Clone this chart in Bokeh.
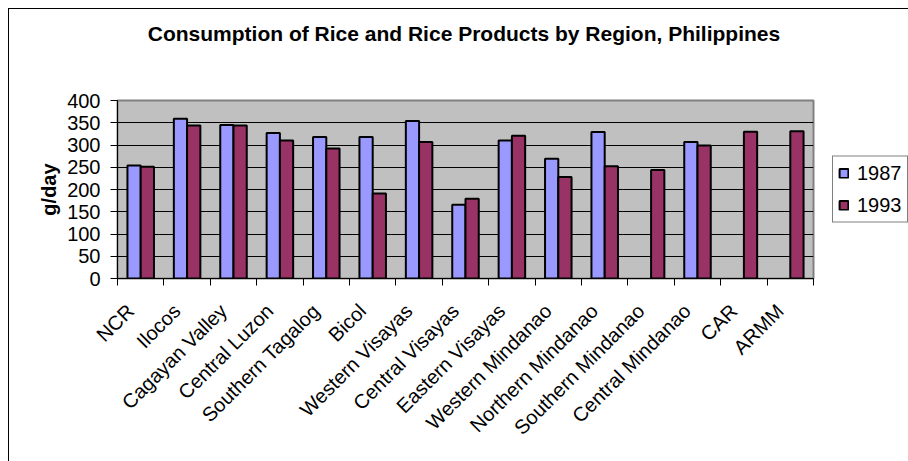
import numpy as np
from bokeh.plotting import figure
from bokeh.layouts import column
from bokeh.models import (FixedTicker, Legend, LegendItem, ColumnDataSource, Range1d, Div)
from bokeh.transform import dodge
from bokeh.embed import file_html
from bokeh.resources import INLINE

title_text = "Consumption of Rice and Rice Products by Region, Philippines"
regions = ["NCR", "Ilocos", "Cagayan Valley", "Central Luzon", "Southern Tagalog",
           "Bicol", "Western Visayas", "Central Visayas", "Eastern Visayas",
           "Western Mindanao", "Northern Mindanao", "Southern Mindanao",
           "Central Mindanao", "CAR", "ARMM"]
y1987 = [254, 359, 345, 327, 318, 318, 354, 166, 310, 269, 329, None, 307, None, None]
y1993 = [251, 344, 344, 310, 292, 191, 307, 179, 321, 228, 252, 244, 299, 330, 331]
y_ticks = [0, 50, 100, 150, 200, 250, 300, 350, 400]

FONT = "Liberation Sans"
FS = "20px"
n = len(regions)
centers = [i + 0.5 for i in range(n)]
bounds = list(range(n + 1))
LABEL_SHIFT = 0.22  # small leftward nudge of rotated category labels
label_pos = [c - LABEL_SHIFT for c in centers]

src = ColumnDataSource(dict(
    x=centers,
    a=[np.nan if v is None else v for v in y1987],
    b=[np.nan if v is None else v for v in y1993],
))

title = Div(text=title_text, width=888, height=50, margin=(0, 0, 0, 11),
            styles={"font-family": FONT, "font-size": "21px", "font-weight": "bold",
                    "text-align": "center", "line-height": "50px", "color": "black",
                    "white-space": "nowrap"})

p = figure(frame_width=696, frame_height=178, output_backend="svg", toolbar_location=None,
           x_range=Range1d(0, n), y_range=Range1d(0, 400),
           min_border_left=108, min_border_top=41, min_border_right=10,
           min_border_bottom=183)

p.background_fill_color = "#C0C0C0"
p.border_fill_color = "white"
p.outline_line_color = "#808080"
p.outline_line_width = 2

bw = 1 / 3.5
r1 = p.vbar(x=dodge("x", -bw / 2), top="a", width=bw, source=src,
            fill_color="#9999FF", line_color="black", line_width=2)
r2 = p.vbar(x=dodge("x", bw / 2), top="b", width=bw, source=src,
            fill_color="#993366", line_color="black", line_width=2)

# grid
p.xgrid.visible = False
p.ygrid.ticker = FixedTicker(ticks=y_ticks)
p.ygrid.grid_line_color = "black"
p.ygrid.grid_line_width = 1

# y axis
p.yaxis.ticker = FixedTicker(ticks=y_ticks)
p.yaxis.axis_label = "g/day"
p.yaxis.axis_label_text_font = FONT
p.yaxis.axis_label_text_font_size = FS
p.yaxis.axis_label_text_font_style = "bold"
p.yaxis.axis_label_text_color = "black"
p.yaxis.axis_label_standoff = 4
p.yaxis.major_label_text_font = FONT
p.yaxis.major_label_text_font_size = FS
p.yaxis.major_label_text_color = "black"
p.yaxis.major_tick_out = 7
p.yaxis.major_tick_in = 0
p.yaxis.minor_tick_line_color = None
p.yaxis.major_label_standoff = 10
p.yaxis.axis_line_color = "black"

# x axis
p.xaxis.ticker = FixedTicker(ticks=label_pos, minor_ticks=bounds)
p.xaxis.major_label_overrides = {c: r for c, r in zip(label_pos, regions)}
p.xaxis.major_label_orientation = np.pi / 4
p.xaxis.major_label_text_font = FONT
p.xaxis.major_label_text_font_size = FS
p.xaxis.major_label_text_color = "black"
p.xaxis.major_tick_out = 0
p.xaxis.major_tick_in = 0
p.xaxis.major_tick_line_color = None
p.xaxis.minor_tick_out = 7
p.xaxis.minor_tick_in = 0
p.xaxis.minor_tick_line_color = "black"
p.xaxis.major_label_standoff = 22
p.xaxis.axis_line_color = "black"

legend = Legend(items=[LegendItem(label="1987", renderers=[r1]),
                       LegendItem(label="1993", renderers=[r2])],
                location="center_left", orientation="vertical")
legend.margin = 19
legend.label_text_font = FONT
legend.label_text_font_size = FS
legend.label_text_color = "black"
legend.glyph_width = 11
legend.glyph_height = 11
legend.spacing = 9
legend.padding = 5
legend.label_standoff = 8
legend.border_line_color = "black"
legend.border_line_width = 1
legend.background_fill_alpha = 1
legend.background_fill_color = "white"
p.add_layout(legend, "right")

layout = column(title, p, spacing=0,
                styles={"margin-left": "8px", "margin-top": "8px",
                        "border-left": "1px solid black", "border-top": "1px solid black"})

open("out.html", "w").write(file_html(layout, INLINE))
